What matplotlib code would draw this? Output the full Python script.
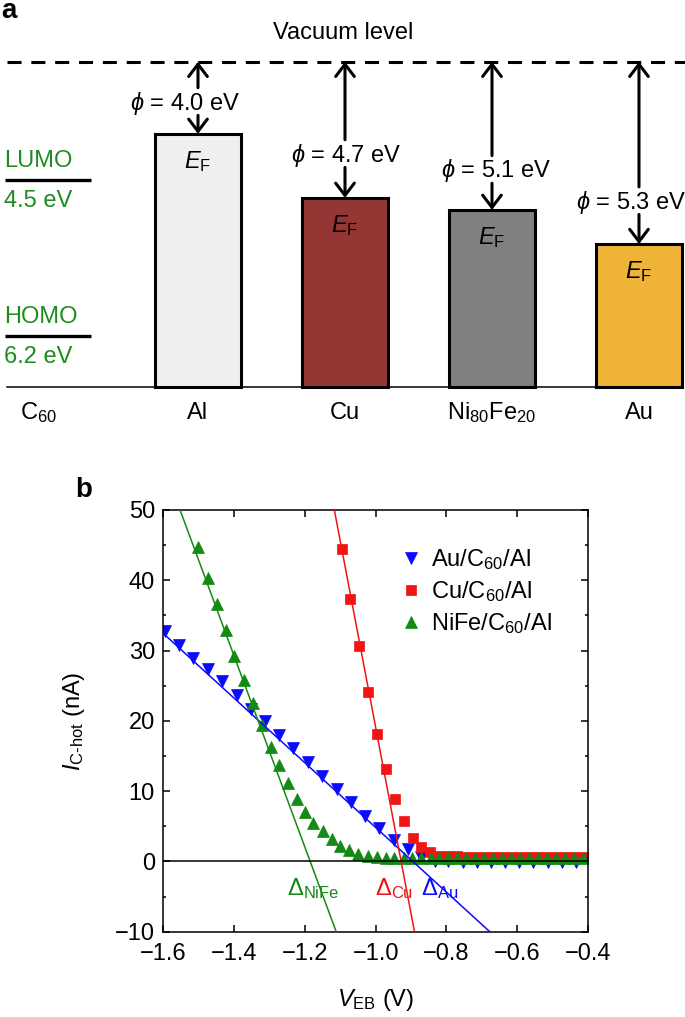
import numpy as np
import matplotlib
matplotlib.use("Agg")
import matplotlib.pyplot as plt
from matplotlib.ticker import MultipleLocator

plt.rcParams['font.family'] = ['Liberation Sans', 'DejaVu Sans']
plt.rcParams['mathtext.fontset'] = 'custom'
plt.rcParams['mathtext.rm'] = 'Liberation Sans'
plt.rcParams['mathtext.it'] = 'Liberation Sans:italic'
plt.rcParams['mathtext.bf'] = 'Liberation Sans:bold'
FS = 17

# ---------------- panel a data (schematic, vacuum level = 1, baseline = 0)
metals = ['Al', 'Cu', 'Ni$_{80}$Fe$_{20}$', 'Au']
work_fn = [4.0, 4.7, 5.1, 5.3]
level_drawn = [0.778, 0.581, 0.544, 0.439]          # drawn height of E_F
phi_label_y = [0.873, 0.713, 0.664, 0.568]          # where the phi text sits
phi_label_dx = [-0.088, 0.01, 0.03, -0.055]         # text offset from the arrow
bar_colors = ['#efefef', '#943634', '#808080', '#f0b33a']
c60_names = ['LUMO', 'HOMO']
c60_energy = [4.5, 6.2]
c60_drawn = [0.636, 0.156]

# ---------------- panel b data
v_au = [-1.595, -1.555, -1.515, -1.475, -1.435, -1.393, -1.352, -1.313, -1.272, -1.233,
        -1.192, -1.152, -1.110, -1.070, -1.029, -0.990, -0.948, -0.910, -0.871, -0.833,
        -0.795, -0.754, -0.714, -0.674, -0.634, -0.594, -0.554, -0.513, -0.474, -0.433]
i_au = [32.8, 30.8, 29.0, 27.4, 25.6, 23.7, 21.7, 20.0, 18.0, 16.1,
        14.1, 12.2, 10.3, 8.4, 6.5, 4.7, 3.0, 1.7, 0.6, 0.1,
        0.0, -0.1, -0.1, -0.1, -0.1, -0.1, -0.1, -0.1, -0.1, -0.1]

v_cu = [-1.096, -1.072, -1.047, -1.022, -0.996, -0.971, -0.946, -0.921, -0.895, -0.871,
        -0.846, -0.820, -0.795, -0.769, -0.744, -0.719, -0.693, -0.668, -0.642, -0.617,
        -0.592, -0.566, -0.541, -0.516, -0.490, -0.465, -0.440, -0.414]
i_cu = [44.4, 37.4, 30.7, 24.1, 18.2, 13.1, 8.9, 5.7, 3.4, 2.0,
        1.3, 0.8, 0.7, 0.7, 0.6, 0.6, 0.6, 0.6, 0.6, 0.6,
        0.6, 0.6, 0.6, 0.6, 0.6, 0.6, 0.6, 0.6]

v_nife = [-1.501, -1.475, -1.449, -1.424, -1.399, -1.372, -1.346, -1.322, -1.297, -1.272,
          -1.249, -1.223, -1.200, -1.176, -1.150, -1.124, -1.101, -1.074, -1.049, -1.022,
          -0.997, -0.972, -0.947, -0.921, -0.896, -0.871, -0.845, -0.820, -0.795, -0.769,
          -0.744, -0.719, -0.693, -0.668, -0.642, -0.617, -0.592, -0.566, -0.541, -0.516,
          -0.490, -0.465, -0.440, -0.414]
i_nife = [44.7, 40.3, 36.6, 32.9, 29.2, 25.8, 22.5, 19.4, 16.3, 13.7,
          11.2, 8.9, 7.1, 5.5, 4.3, 3.2, 2.2, 1.6, 1.1, 0.8,
          0.6, 0.5, 0.5, 0.5, 0.5, 0.5, 0.5, 0.5, 0.5, 0.5,
          0.5, 0.5, 0.5, 0.5, 0.5, 0.5, 0.5, 0.5, 0.5, 0.5,
          0.5, 0.5, 0.5, 0.5]

# linear fits: threshold voltage (zero crossing) and slope in nA/V
delta = {'Au': -0.895, 'Cu': -0.928, 'NiFe': -1.185}
slope = {'Au': -46.0, 'Cu': -265.0, 'NiFe': -136.0}

blue, red, green = '#0a0aff', '#f01414', '#138a13'
lab_green = '#1e8c1e'

fig = plt.figure(figsize=(6.85, 10.17), dpi=100)

# ================= panel a
ax = fig.add_axes([0, 1 - 440 / 1017, 1, 440 / 1017])
ax.set_xlim(-0.347, 4.313)
ax.set_ylim(-0.164, 1.19)
ax.axis('off')

pos = np.arange(1, len(metals) + 1)
ax.bar(pos, level_drawn, width=0.59, color=bar_colors, edgecolor='black', linewidth=2.2, zorder=2)
ax.axhline(0, xmin=0.01, xmax=0.993, color='black', lw=1.1, zorder=3)
ax.axhline(1, xmin=0.01, xmax=1.0, color='black', lw=2.2, dashes=(4.6, 3.2))
ax.text(1.986, 1.088, 'Vacuum level', ha='center', va='center', fontsize=FS)

for p, w, lv, ly, dx in zip(pos, work_fn, level_drawn, phi_label_y, phi_label_dx):
    ax.text(p + dx, ly, r'$\phi$ = %.1f eV' % w, ha='center', va='center', fontsize=FS)
    ap = dict(arrowstyle='->, head_length=0.55, head_width=0.42', lw=2.2, color='black',
              shrinkA=0, shrinkB=0)
    ax.annotate('', xy=(p, 1), xytext=(p, ly + 0.047), arrowprops=ap, fontsize=16)
    ax.annotate('', xy=(p, lv), xytext=(p, ly - 0.038), arrowprops=ap, fontsize=16)
    ax.text(p, lv - 0.085, r'$E_{\mathrm{F}}$', ha='center', va='center', fontsize=FS)

ax.hlines(c60_drawn, -0.31, 0.27, color='black', lw=2.4)
for name, e, lv in zip(c60_names, c60_energy, c60_drawn):
    ax.text(-0.318, lv + 0.06, name, ha='left', va='center', fontsize=FS, color=lab_green)
    ax.text(-0.318, lv - 0.064, '%.1f eV' % e, ha='left', va='center', fontsize=FS, color=lab_green)

ax.text(-0.088, -0.1, 'C$_{60}$', ha='center', va='baseline', fontsize=FS)
for p, m in zip(pos, metals):
    ax.text(p, -0.1, m, ha='center', va='baseline', fontsize=FS)

fig.text(0.0015, 1 - 18 / 1017, 'a', fontsize=20, fontweight='bold', ha='left', va='baseline')

# ================= panel b
bx = fig.add_axes([163.3 / 685, 1 - 931.7 / 1017, 424.7 / 685, 421.7 / 1017])
bx.plot(v_au, i_au, 'v', color=blue, ms=8.5, mec=blue, mew=0.5, label='Au/C$_{60}$/Al', zorder=2)
bx.plot(v_cu, i_cu, 's', color=red, ms=7.0, mec=red, mew=0.5, label='Cu/C$_{60}$/Al', zorder=2)
bx.plot(v_nife, i_nife, '^', color=green, ms=8.5, mec=green, mew=0.5, label='NiFe/C$_{60}$/Al', zorder=2)

xx = np.linspace(-1.6, -0.4, 200)
for key, c in [('Au', blue), ('Cu', red), ('NiFe', green)]:
    bx.plot(xx, slope[key] * (xx - delta[key]), color=c, lw=1.1, zorder=3)
bx.axhline(0, color='black', lw=1.1, zorder=4)

bx.text(-1.176, -3.8, r'$\Delta_{\mathrm{NiFe}}$', color=green, ha='center', va='center', fontsize=FS)
bx.text(-0.947, -3.8, r'$\Delta_{\mathrm{Cu}}$', color=red, ha='center', va='center', fontsize=FS)
bx.text(-0.818, -3.8, r'$\Delta_{\mathrm{Au}}$', color=blue, ha='center', va='center', fontsize=FS)

bx.set_xlim(-1.6, -0.4)
bx.set_ylim(-10, 50)
bx.xaxis.set_major_locator(MultipleLocator(0.2))
bx.yaxis.set_major_locator(MultipleLocator(10))
bx.yaxis.set_minor_locator(MultipleLocator(5))
bx.xaxis.set_major_formatter(plt.FuncFormatter(lambda v, _: ('%.1f' % v).replace('-', '\u2212')))
bx.yaxis.set_major_formatter(plt.FuncFormatter(lambda v, _: ('%d' % v).replace('-', '\u2212')))
bx.tick_params(which='both', direction='in', top=True, right=True, width=1.1, labelsize=FS)
bx.tick_params(axis='y', which='major', length=5, pad=6)
bx.tick_params(axis='y', which='minor', length=2.5)
bx.tick_params(axis='x', which='major', length=5, pad=8)
for s in bx.spines.values():
    s.set_linewidth(1.1)

bx.set_xlabel(r'$V_{\mathrm{EB}}$ (V)', fontsize=FS)
bx.xaxis.set_label_coords(0.5, -0.13)
bx.set_ylabel('$I_{\\mathrm{C\u2010hot}}$ (nA)', fontsize=FS)
bx.yaxis.set_label_coords(-0.18, 0.5)

bx.legend(loc='upper left', bbox_to_anchor=(0.555, 0.912), frameon=False, fontsize=FS,
          handlelength=1.0, handletextpad=0.35, borderpad=0, borderaxespad=0,
          labelspacing=0.3, markerscale=0.95)

fig.text(75 / 685, 1 - 497 / 1017, 'b', fontsize=20, fontweight='bold', ha='left', va='baseline')

fig.savefig('out.png', dpi=100)
